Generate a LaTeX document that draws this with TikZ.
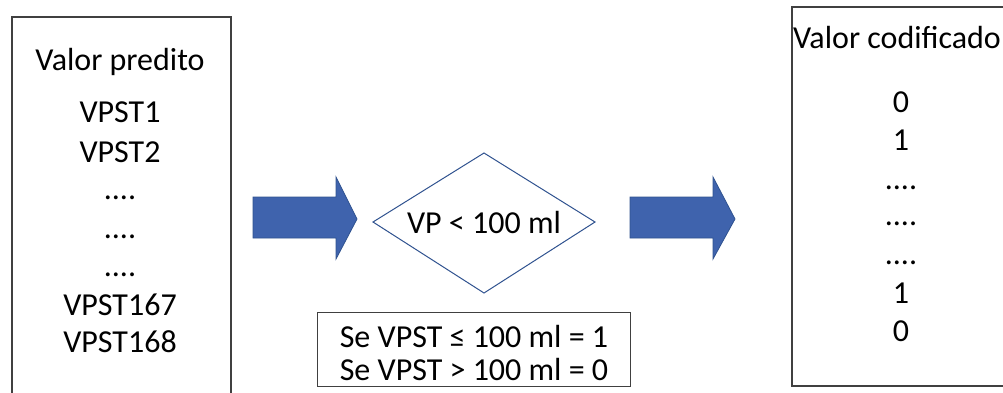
\documentclass[tikz,border=0pt]{standalone}
\usepackage{fontspec}
\setmainfont{Carlito}
\definecolor{arrowfill}{RGB}{63,99,173}
\definecolor{arrowline}{RGB}{47,82,143}
\definecolor{boxline}{RGB}{64,64,64}
\begin{document}
\begin{tikzpicture}[x=1pt,y=-1pt,
  txt/.style={anchor=base,inner sep=0pt,font=\fontsize{32}{38}\selectfont},
  frame/.style={draw=boxline,line width=1.2pt},
  blockarrow/.style={fill=arrowfill,draw=arrowline,line width=0.8pt}]
\useasboundingbox (0,0) rectangle (1003,392);

% input column
\draw[frame] (12,400) -- (12,17) -- (231,17) -- (231,400);
\node[txt] (inTitle) at (120,70) {Valor predito};
\node[txt] (in1) at (120,122) {VPST1};
\node[txt] (in2) at (120,162) {VPST2};
\node[txt] (inDotsA) at (120,199) {....};
\node[txt] (inDotsB) at (120,238) {....};
\node[txt] (inDotsC) at (120,276) {....};
\node[txt] (in167) at (120,315) {VPST167};
\node[txt] (in168) at (120,352) {VPST168};

% block arrows
\draw[blockarrow] (253,197) -- (336,197) -- (336,177) -- (357,219)
  -- (336,259) -- (336,238) -- (253,238) -- cycle;
\draw[blockarrow] (630,197) -- (713,197) -- (713,177) -- (735,219)
  -- (713,259) -- (713,238) -- (630,238) -- cycle;

% decision
\draw[draw=arrowline,line width=1pt] (484,153) -- (595,222) -- (484,293) -- (373,222) -- cycle;
\node[txt] (test) at (484,233) {VP < 100 ml};

% rule box
\draw[frame,line width=1pt] (317,312) rectangle (630,386);
\node[txt] (rule1) at (474,347) {Se VPST ≤ 100 ml = 1};
\node[txt] (rule0) at (474,380) {Se VPST > 100 ml = 0};

% output column
\draw[frame] (1010,7) -- (792,7) -- (792,386) -- (1010,386);
\node[txt] (outTitle) at (897,48) {Valor codificado};
\node[txt] (out1) at (901,112) {0};
\node[txt] (out2) at (901,150) {1};
\node[txt] (outDotsA) at (901,189) {....};
\node[txt] (outDotsB) at (901,225) {....};
\node[txt] (outDotsC) at (901,264) {....};
\node[txt] (out167) at (901,303) {1};
\node[txt] (out168) at (901,341) {0};
\end{tikzpicture}
\end{document}
